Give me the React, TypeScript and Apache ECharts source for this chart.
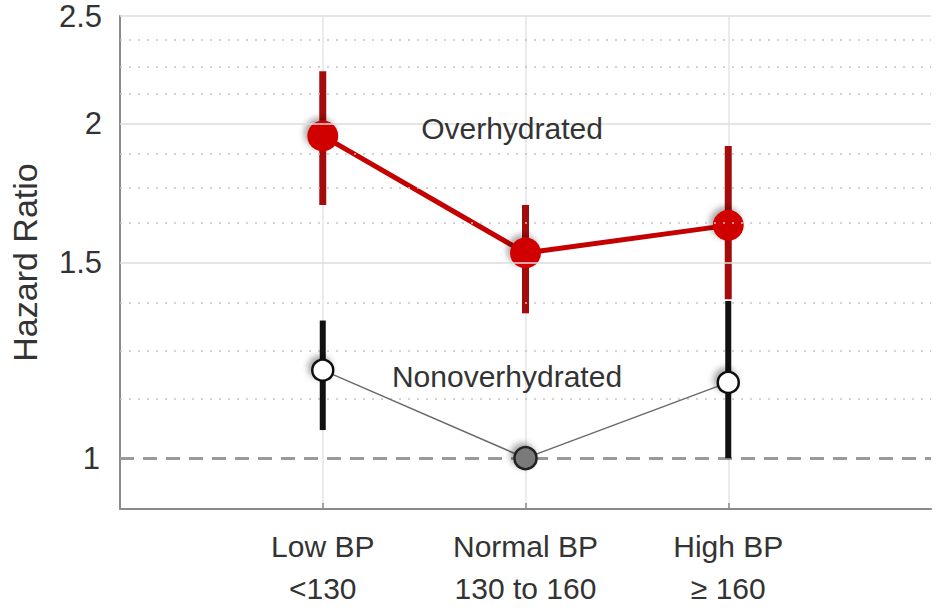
import React, { useEffect, useRef } from 'react';
import * as echarts from 'echarts';

// ---- data ----
const categories = ['', 'Low BP\n<130', 'Normal BP\n130 to 160', 'High BP\n≥ 160', ''];
const overHR: (number | null)[] = [null, 1.95, 1.53, 1.62, null];
const overLow: (number | null)[] = [null, 1.69, 1.35, 1.39, null];
const overHigh: (number | null)[] = [null, 2.23, 1.69, 1.91, null];
const nonHR: (number | null)[] = [null, 1.2, 1.0, 1.17, null];
const nonLow: (number | null)[] = [null, 1.06, null, 1.0, null];
const nonHigh: (number | null)[] = [null, 1.33, null, 1.385, null];
const yMajorTicks = [1.5, 2, 2.5];
const yMinorTicks = [1.125, 1.25, 1.375, 1.625, 1.75, 1.875, 2.125, 2.25, 2.375];
const referenceHR = 1;
const yMin = 0.9;
const yMax = 2.5;
const overLabel = 'Overhydrated';
const nonLabel = 'Nonoverhydrated';

const FONT = 'Arial, "Liberation Sans", Helvetica, sans-serif';
const TEXT = '#333333';

function pairs(vals: (number | null)[]) {
  const out: number[][] = [];
  vals.forEach((v, i) => { if (v != null) out.push([i, v]); });
  return out;
}
function bars(lo: (number | null)[], hi: (number | null)[]) {
  const out: number[][] = [];
  lo.forEach((l, i) => { const h = hi[i]; if (l != null && h != null) out.push([i, l, h]); });
  return out;
}
function barSeries(data: number[][], color: string, width: number, z: number) {
  return {
    type: 'custom',
    z,
    silent: true,
    encode: { x: 0, y: [1, 2] },
    data,
    renderItem: (params: any, api: any) => {
      const x = api.value(0);
      const p1 = api.coord([x, api.value(1)]);
      const p2 = api.coord([x, api.value(2)]);
      return {
        type: 'line',
        shape: { x1: p1[0], y1: p1[1], x2: p2[0], y2: p2[1] },
        style: { stroke: color, lineWidth: width },
      };
    },
  };
}

const shadow = { shadowBlur: 6, shadowColor: 'rgba(0,0,0,0.35)', shadowOffsetX: -3, shadowOffsetY: -3 };

export default function App() {
  const ref = useRef<HTMLDivElement>(null);
  useEffect(() => {
    if (!ref.current) return;
    const chart = echarts.init(ref.current, undefined, { renderer: 'svg' });
    const showCat = (i: number) => i > 0 && i < categories.length - 1;
    const gridLines: any[] = [];
    yMinorTicks.forEach((v) => gridLines.push({
      yAxis: v,
      lineStyle: { color: '#c4c4c4', width: 1.5, type: [2, 7] },
      label: { show: false },
    }));
    yMajorTicks.forEach((v) => gridLines.push({
      yAxis: v,
      lineStyle: { color: '#dcdcdc', width: 1.5, type: 'solid' },
      label: { show: true, position: 'start', formatter: String(v), fontSize: 31, color: TEXT, distance: 18, fontFamily: FONT },
    }));
    gridLines.push({
      yAxis: referenceHR,
      lineStyle: { color: '#9a9a9a', width: 3, type: [14, 9] },
      label: { show: true, position: 'start', formatter: String(referenceHR), fontSize: 31, color: TEXT, distance: 20, fontFamily: FONT },
    });

    chart.setOption({
      animation: false,
      backgroundColor: '#ffffff',
      textStyle: { fontFamily: FONT },
      grid: { left: 110, right: 5, top: 16, bottom: 100, containLabel: false },
      xAxis: {
        type: 'category',
        data: categories,
        boundaryGap: false,
        axisLine: { lineStyle: { color: '#8a8a8a', width: 2 } },
        axisTick: { show: true, inside: true, length: 6, interval: (i: number) => showCat(i), lineStyle: { color: '#8a8a8a', width: 1.5 } },
        axisLabel: { interval: 0, fontSize: 30, lineHeight: 42, color: TEXT, margin: 16, fontFamily: FONT },
        splitLine: { show: true, interval: (i: number) => showCat(i), lineStyle: { color: '#e4e4e4', width: 1.5 } },
      },
      yAxis: {
        type: 'log',
        logBase: 10,
        min: yMin,
        max: yMax,
        name: 'Hazard Ratio',
        nameLocation: 'middle',
        nameGap: 78,
        nameTextStyle: { fontSize: 34, color: TEXT, fontFamily: FONT },
        axisLine: { show: true, lineStyle: { color: '#8a8a8a', width: 2 } },
        axisTick: { show: false },
        axisLabel: { show: false },
        splitLine: { show: false },
      },
      graphic: [
        { type: 'text', x: 512, y: 128, z: 20, style: { text: overLabel, fontSize: 30, fill: TEXT, align: 'center', verticalAlign: 'middle', fontFamily: FONT } },
        { type: 'text', x: 507, y: 376, z: 20, style: { text: nonLabel, fontSize: 30, fill: TEXT, align: 'center', verticalAlign: 'middle', fontFamily: FONT } },
      ],
      series: [
        {
          type: 'line',
          data: [],
          z: 1,
          silent: true,
          markLine: { silent: true, symbol: 'none', animation: false, data: gridLines },
        },
        barSeries(bars(overLow, overHigh), '#a30c0c', 7, 3),
        {
          type: 'line',
          z: 4,
          data: pairs(overHR),
          symbol: 'circle',
          symbolSize: 31,
          lineStyle: { color: '#c40000', width: 5 },
          itemStyle: { color: '#d10000', ...shadow },
        },
        barSeries(bars(nonLow, nonHigh), '#111111', 6, 5),
        {
          type: 'line',
          z: 6,
          data: pairs(nonHR).map((p) => p[1] === referenceHR
            ? { value: p, symbolSize: 22, itemStyle: { color: '#7a7a7a', borderColor: '#222', borderWidth: 2.5 } }
            : { value: p }),
          symbol: 'circle',
          symbolSize: 21,
          lineStyle: { color: '#6a6a6a', width: 1.5 },
          itemStyle: { color: '#ffffff', borderColor: '#111', borderWidth: 2.5, ...shadow },
        },
      ],
    });
    return () => chart.dispose();
  }, []);
  return <div ref={ref} style={{ position: 'fixed', left: 0, top: 0, width: 936, height: 609, background: '#fff' }} />;
}
